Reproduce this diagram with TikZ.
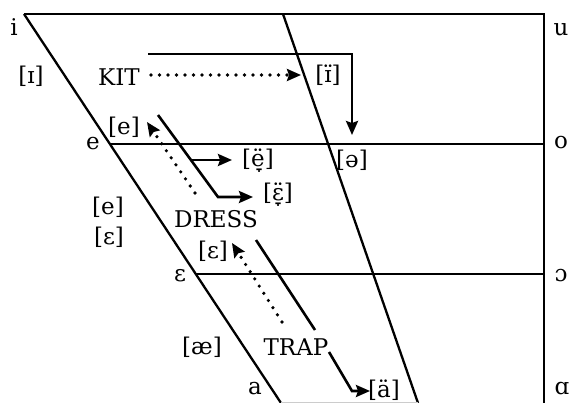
\documentclass[tikz,border=0pt]{standalone}
\usepackage{fontspec}
\setmainfont{DejaVu Serif}
\usetikzlibrary{arrows.meta}
\begin{document}
\begin{tikzpicture}[x=1pt,y=-1pt,
  frame/.style={line width=2.3pt},
  arr/.style={line width=2.6pt,-{Stealth[length=14pt,width=12pt,inset=2pt]}},
  solidline/.style={line width=2.6pt},
  dotarr/.style={line width=3.6pt,line cap=round,dash pattern=on 0pt off 8.5pt,
     -{Stealth[length=14pt,width=12pt,inset=2pt,line cap=butt,sep=0pt]}},
  lbl/.style={font=\fontsize{23}{25}\selectfont,inner sep=0pt}]
\useasboundingbox (0,0) rectangle (569,403);
% frame corners
\coordinate (I) at (24,14);
\coordinate (U) at (544,14);
\coordinate (E) at (110,144);
\coordinate (O) at (544,144);
\coordinate (EPS) at (196,274);
\coordinate (OO) at (544,274);
\coordinate (A) at (281,403);
\coordinate (AA) at (544,403);
\coordinate (MT) at (283,14);
\coordinate (MB) at (418,403);
\draw[frame] (I) -- (U) -- (AA);
\draw[frame] (I) -- (A);
\draw[frame] (MT) -- (MB);
\draw[frame] (E) -- (O);
\draw[frame] (EPS) -- (OO);
\draw[frame,gray!40] (A) -- (MB);
% corner labels
\node[lbl] (li) at (14,27) {i};
\node[lbl] (lu) at (561,30) {u};
\node[lbl] (lo) at (561,143) {o};
\node[lbl] (loo) at (561,276) {ɔ};
\node[lbl] (laa) at (562,389) {ɑ};
\node[lbl] (le) at (93,144) {e};
\node[lbl] (leps) at (180,276) {ε};
\node[lbl] (la) at (255,389) {a};
% other labels
\node[lbl] (iI) at (31,76) {[ɪ]};
\node[lbl] (kit) at (119,77) {KIT};
\node[lbl] (iIdd) at (328,75) {[ɪ̈]};
\node[lbl] (schwa) at (352,160) {[ə]};
\node[lbl] (ee) at (124,127) {[e]};
\node[lbl] (eed) at (258,161) {[ë̞]};
\node[lbl] (epsd) at (278,195) {[ɛ̞̈]};
\node[lbl] (el) at (108,207) {[e]};
\node[lbl] (epsl) at (109,237) {[ɛ]};
\node[lbl] (dress) at (216,219) {DRESS};
\node[lbl] (epsm) at (213,251) {[ɛ]};
\node[lbl] (ae) at (202,347) {[æ]};
\node[lbl] (trap) at (296,347) {TRAP};
\node[lbl] (ad) at (384,390) {[ä]};
% KIT arrows
\coordinate (k1) at (148,54);
\coordinate (k2) at (352,54);
\coordinate (k3) at (352,135);
\draw[arr] (k1) -- (k2) -- (k3);
\coordinate (kd1) at (151,75);
\coordinate (kd2) at (301,75);
\draw[dotarr] (kd1) -- (kd2);
% DRESS arrows
\coordinate (d1) at (158,115);
\coordinate (d2) at (218,197);
\coordinate (d3) at (253,197);
\draw[arr] (d1) -- (d2) -- (d3);
\coordinate (db1) at (191,160);
\coordinate (db2) at (232,160);
\draw[arr] (db1) -- (db2);
\coordinate (dd1) at (195,193);
\coordinate (dd2) at (147,122);
\draw[dotarr] (dd1) -- (dd2);
% TRAP arrows
\coordinate (t1) at (256,240);
\coordinate (t2) at (315,330);
\draw[solidline] (t1) -- (t2);
\coordinate (td1) at (282,322);
\coordinate (td2) at (232,243);
\draw[dotarr] (td1) -- (td2);
\coordinate (ta1) at (329,352);
\coordinate (ta2) at (352,391);
\coordinate (ta3) at (370,391);
\draw[arr] (ta1) -- (ta2) -- (ta3);
\end{tikzpicture}
\end{document}
